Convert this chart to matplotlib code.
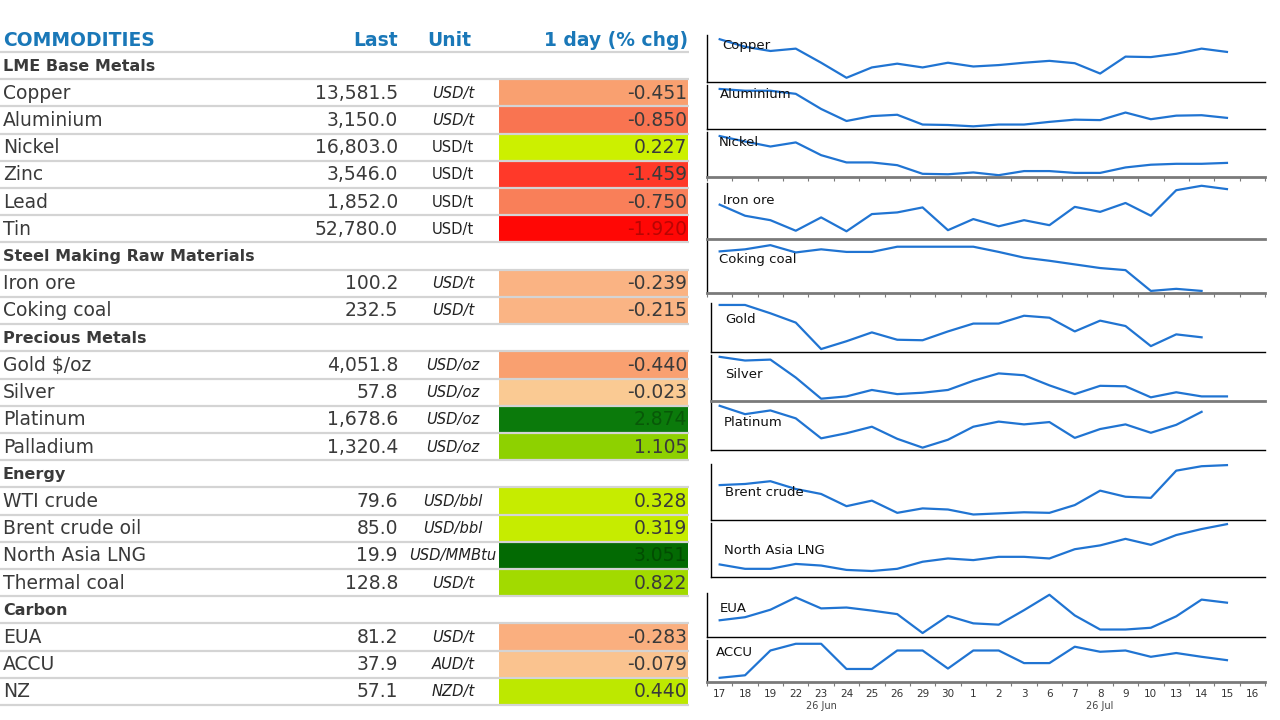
import matplotlib
matplotlib.use("Agg")
import matplotlib.pyplot as plt
from matplotlib.colors import LinearSegmentedColormap, Normalize, to_rgb
from matplotlib.patches import Rectangle
from matplotlib.transforms import blended_transform_factory

# ── Table data ───────────────────────────────────────────────────────────────
sections = ["LME Base Metals", "Steel Making Raw Materials", "Precious Metals",
            "Energy", "Carbon"]
names = ["Copper", "Aluminium", "Nickel", "Zinc", "Lead", "Tin",
         "Iron ore", "Coking coal",
         "Gold $/oz", "Silver", "Platinum", "Palladium",
         "WTI crude", "Brent crude oil", "North Asia LNG", "Thermal coal",
         "EUA", "ACCU", "NZ"]
groups = [0, 0, 0, 0, 0, 0, 1, 1, 2, 2, 2, 2, 3, 3, 3, 3, 4, 4, 4]
last = [13581.5, 3150.0, 16803.0, 3546.0, 1852.0, 52780.0,
        100.2, 232.5,
        4051.8, 57.8, 1678.6, 1320.4,
        79.6, 85.0, 19.9, 128.8,
        81.2, 37.9, 57.1]
units = ["USD/t", "USD/t", "USD/t", "USD/t", "USD/t", "USD/t",
         "USD/t", "USD/t",
         "USD/oz", "USD/oz", "USD/oz", "USD/oz",
         "USD/bbl", "USD/bbl", "USD/MMBtu", "USD/t",
         "USD/t", "AUD/t", "NZD/t"]
chg_1d = [-0.451, -0.850, 0.227, -1.459, -0.750, -1.920,
          -0.239, -0.215,
          -0.440, -0.023, 2.874, 1.105,
          0.328, 0.319, 3.051, 0.822,
          -0.283, -0.079, 0.440]

# ── Sparkline data (level within each panel, 0 = panel floor) ────────────────
days = ["17", "18", "19", "22", "23", "24", "25", "26", "29", "30",
        "1", "2", "3", "6", "7", "8", "9", "10", "13", "14", "15", "16"]
copper = [91, 75, 66, 71, 41, 9, 31, 39, 31, 41, 33, 36, 41, 45, 40, 18, 54, 53, 60, 71, 64]
aluminium = [90, 86, 86, 79, 45, 18, 29, 32, 10, 9, 6, 10, 10, 16, 21, 20, 37, 22, 30, 31, 25]
nickel = [90, 78, 67, 76, 48, 32, 32, 26, 7, 6, 10, 4, 13, 13, 9, 9, 21, 27, 29, 29, 31]
iron_ore = [61, 41, 33, 14, 38, 13, 44, 47, 56, 15, 35, 22, 33, 24, 57, 48, 64, 41, 87, 95, 89]
coking_coal = [80, 84, 92, 78, 84, 79, 79, 89, 89, 89, 89, 79, 68, 62, 55, 48, 44, 4, 8, 4]
gold = [96, 96, 79, 60, 6, 22, 40, 25, 24, 42, 58, 58, 74, 70, 42, 64, 53, 12, 36, 30]
silver = [96, 88, 90, 51, 5, 10, 24, 15, 18, 24, 44, 60, 56, 34, 15, 33, 32, 8, 19, 10, 10]
platinum = [94, 76, 84, 67, 24, 35, 49, 23, 4, 21, 49, 60, 54, 59, 25, 44, 54, 36, 53, 81]
brent = [62, 64, 69, 55, 46, 24, 34, 12, 20, 18, 9, 11, 13, 12, 26, 52, 41, 39, 88, 96, 98]
lng = [23, 15, 15, 24, 21, 13, 11, 15, 28, 34, 31, 37, 37, 34, 51, 58, 70, 59, 77, 88, 97]
eua = [38, 45, 62, 90, 65, 67, 60, 52, 9, 48, 31, 28, 61, 96, 49, 17, 17, 21, 47, 85, 78]
accu = [10, 16, 75, 91, 91, 31, 31, 75, 75, 32, 75, 75, 45, 45, 84, 72, 75, 60, 69, 60, 52]

# ── Style ────────────────────────────────────────────────────────────────────
W, H = 1280, 720
BLUE = "#1a78b8"
TXT = "#3a3a3a"
GRID = "#d4d4d4"
LINE = "#2074d2"
UPRIGHT_UNITS = {"Nickel", "Zinc", "Lead", "Tin"}

cmap_nodes = [(-2.0, "#ff0000"), (-1.46, "#ff3a2a"), (-0.85, "#f97552"),
              (-0.45, "#f9a070"), (-0.22, "#fab585"), (0.0, "#facc95"),
              (0.001, "#d6f700"), (0.23, "#ccf000"), (0.44, "#bee800"),
              (0.82, "#a2da00"), (1.1, "#8ed100"), (2.0, "#3f9f06"),
              (2.87, "#0b7a0b"), (3.05, "#036a03"), (3.2, "#006000")]
lo, hi = cmap_nodes[0][0], cmap_nodes[-1][0]
cmap = LinearSegmentedColormap.from_list(
    "chg", [((v - lo) / (hi - lo), c) for v, c in cmap_nodes])
norm = Normalize(lo, hi)


def _lum(rgb):
    lin = [c / 12.92 if c <= 0.04045 else ((c + 0.055) / 1.055) ** 2.4 for c in rgb]
    return 0.2126 * lin[0] + 0.7152 * lin[1] + 0.0722 * lin[2]


fig = plt.figure(figsize=(12.8, 7.2), dpi=100)
fig.patch.set_facecolor("white")

# ── Table (pixel coordinates) ────────────────────────────────────────────────
tab = fig.add_axes([0, 0, 1, 1])
tab.set_xlim(0, W)
tab.set_ylim(H, 0)
tab.axis("off")

X_NAME, X_LAST, X_UNIT, X_CELL0, X_CELL1 = 3, 398, 453, 499, 688
LINE0, PITCH = 52.0, 27.21

tab.text(X_NAME, 41, "COMMODITIES", color=BLUE, fontsize=13.5, fontweight="bold",
         ha="left", va="center")
tab.text(X_LAST, 41, "Last", color=BLUE, fontsize=13.5, fontweight="bold",
         ha="right", va="center")
tab.text(449, 41, "Unit", color=BLUE, fontsize=13.5, fontweight="bold",
         ha="center", va="center")
tab.text(X_CELL1, 41, "1 day (% chg)", color=BLUE, fontsize=13.5, fontweight="bold",
         ha="right", va="center")

r = 0
for g, sec in enumerate(sections):
    r += 1
    yc = LINE0 + PITCH * (r - 0.5) + 0.5
    tab.text(X_NAME, yc, sec, color=TXT, fontsize=11.5, fontweight="bold",
             ha="left", va="center")
    for i in [k for k in range(len(names)) if groups[k] == g]:
        r += 1
        y0 = LINE0 + PITCH * (r - 1)
        yc = y0 + PITCH / 2 + 0.5
        bg = cmap(norm(chg_1d[i]))
        tab.add_patch(Rectangle((X_CELL0, y0), X_CELL1 - X_CELL0, PITCH,
                                facecolor=bg, edgecolor="none", zorder=1))
        rgb = to_rgb(bg)
        vcol = tuple(c * 0.72 for c in rgb) if _lum(rgb) < 0.23 else TXT
        tab.text(X_NAME, yc, names[i], color=TXT, fontsize=13.5,
                 ha="left", va="center", zorder=3)
        tab.text(X_LAST, yc, f"{last[i]:,.1f}", color=TXT, fontsize=13.5,
                 ha="right", va="center", zorder=3)
        tab.text(X_UNIT, yc, units[i], color="#222222", fontsize=10.6,
                 style="normal" if names[i] in UPRIGHT_UNITS else "italic",
                 ha="center", va="center", zorder=3)
        tab.text(X_CELL1 - 1, yc, f"{chg_1d[i]:.3f}", color=vcol, fontsize=13.5,
                 ha="right", va="center", zorder=3)

for k in range(r + 1):
    y = LINE0 + PITCH * k
    tab.plot([0, X_CELL1 + 1], [y, y], color=GRID, lw=1.6, zorder=2,
             solid_capstyle="butt")

# ── Sparklines ───────────────────────────────────────────────────────────────
# label, series, top, bottom, left, label x, label y, heavy grey floor, ticks
panels = [
    ("Copper", copper, 35, 82, 707, 722, 46, False, False),
    ("Aluminium", aluminium, 84.5, 129, 707, 720, 95, False, False),
    ("Nickel", nickel, 131.5, 177, 707, 719, 142, True, True),
    ("Iron ore", iron_ore, 183, 238.5, 707, 723, 201, True, False),
    ("Coking coal", coking_coal, 241, 293, 707, 719, 259, True, True),
    ("Gold", gold, 303, 352, 711, 725, 319.5, False, False),
    ("Silver", silver, 355, 401, 711, 725, 374, True, False),
    ("Platinum", platinum, 403, 449.5, 711, 724, 422.5, False, False),
    ("Brent crude", brent, 464, 519.5, 711, 725, 492.5, False, False),
    ("North Asia LNG", lng, 522.5, 577, 711, 724, 550.5, False, False),
    ("EUA", eua, 593, 637, 707, 720, 609, False, False),
    ("ACCU", accu, 640, 682, 707, 716, 653, True, True),
]
RIGHT = 1265
STEP = (RIGHT - 707) / len(days)

for label, series, top, bot, left, lx, ly, heavy, ticks in panels:
    ax = fig.add_axes([left / W, 1 - bot / H, (RIGHT - left) / W, (bot - top) / H])
    ax.patch.set_alpha(0)
    ax.plot(range(len(series)), series, color=LINE, lw=1.6, clip_on=False,
            solid_joinstyle="round")
    ax.set_xlim(-0.5 + (left - 707) / STEP, len(days) - 0.5)
    ax.set_ylim(0, 100)
    for s in ("top", "right"):
        ax.spines[s].set_visible(False)
    ax.spines["left"].set_color("black")
    ax.spines["left"].set_linewidth(1.0)
    ax.spines["bottom"].set_color("#7a7a7a" if heavy else "black")
    ax.spines["bottom"].set_linewidth(2.0 if heavy else 1.0)
    ax.set_yticks([])
    ax.set_xticks([])
    if ticks:
        ax.set_xticks([i + 0.5 for i in range(-1, len(days))], minor=True)
        ax.tick_params(axis="x", which="minor", length=3, width=0.8,
                       color="#7a7a7a", direction="out")
    fig.text(lx / W, 1 - ly / H, label, fontsize=9.5, color="#111111",
             ha="left", va="center")

    if label == "ACCU":
        ax.set_xticks(range(len(days)))
        ax.set_xticklabels(days, fontsize=7.5, color="#333333")
        ax.tick_params(axis="x", which="major", length=0, pad=5)
        tr = blended_transform_factory(ax.transData, ax.transAxes)
        ax.text(4, -0.56, "26 Jun", transform=tr, fontsize=7, color="#444444",
                ha="center", va="center")
        ax.text(15, -0.56, "26 Jul", transform=tr, fontsize=7, color="#444444",
                ha="center", va="center")

fig.savefig("out.png", dpi=100, facecolor="white")
